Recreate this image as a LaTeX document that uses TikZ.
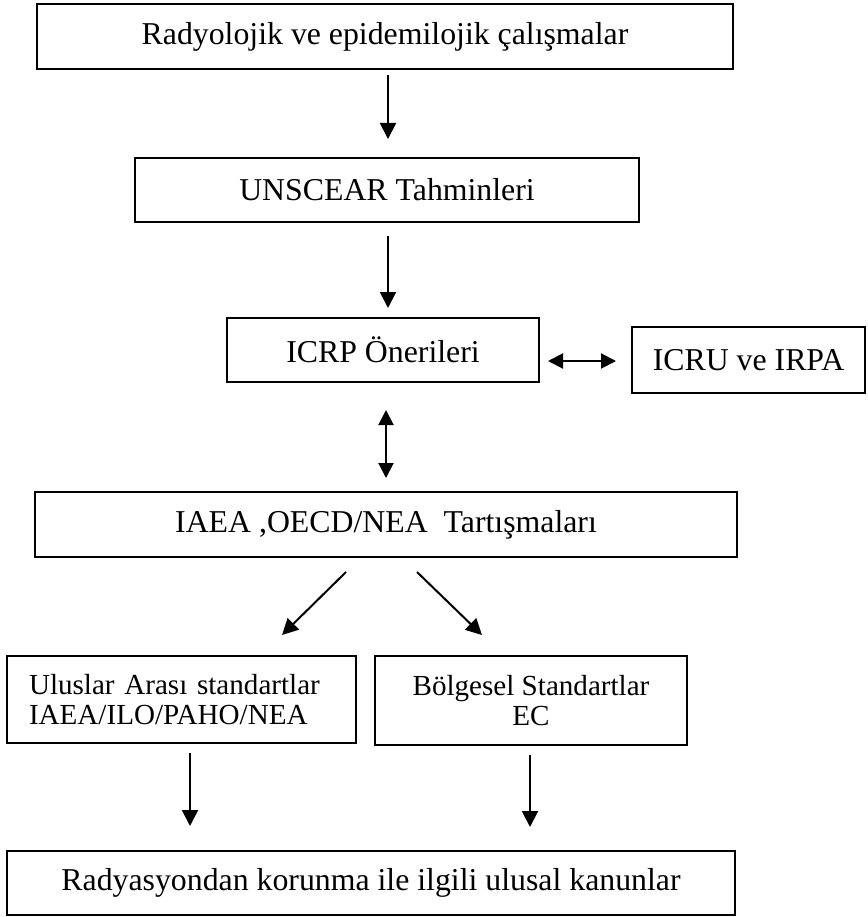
\documentclass[tikz,border=0pt]{standalone}
\usepackage{fontspec}
\setmainfont{Liberation Serif}
\usetikzlibrary{arrows.meta}
\begin{document}
\begin{tikzpicture}[x=1pt,y=-1pt,
  box/.style={draw, line width=2pt, inner sep=0pt, font=\fontsize{31.8}{36}\selectfont},
  smallbox/.style={draw, line width=2pt, inner sep=0pt, font=\fontsize{29.1}{30}\selectfont},
  arr/.style={line width=2pt, -{Triangle[length=16pt,width=16pt]}},
  darr/.style={line width=2pt, {Triangle[length=15pt,width=15pt]}-{Triangle[length=15pt,width=15pt]}}]
\useasboundingbox (0,0) rectangle (867,917);

\node[box, minimum width=696pt, minimum height=65pt] (b1) at (385,36.5) {Radyolojik ve epidemilojik çalışmalar};
\node[box, minimum width=504pt, minimum height=64pt] (b2) at (387,190) {UNSCEAR Tahminleri};
\node[box, minimum width=312pt, minimum height=64pt] (b3) at (383,350) {ICRP Önerileri};
\node[box, minimum width=233pt, minimum height=66pt] (b4) at (748.5,360) {ICRU ve IRPA};
\node[box, minimum width=702pt, minimum height=65pt] (b5) at (386,524.5) {IAEA ,OECD/NEA\ \ Tartışmaları};
\node[smallbox, minimum width=349pt, minimum height=87pt, text width=305pt, inner xsep=22pt, align=left] (b6) at (181.5,699.5) {Uluslar Arası standartlar\\IAEA/ILO/PAHO/NEA};
\node[smallbox, minimum width=312pt, minimum height=89pt, align=center] (b7) at (531,700.5) {Bölgesel Standartlar\\EC};
\node[box, minimum width=728pt, minimum height=64pt] (b8) at (371,883) {Radyasyondan korunma ile ilgili ulusal kanunlar};

\coordinate (a1s) at (388,75);   \coordinate (a1e) at (388,139);
\coordinate (a2s) at (388,236);  \coordinate (a2e) at (388,308);
\coordinate (hs) at (548,361);   \coordinate (he) at (616,361);
\coordinate (vs) at (386,410);   \coordinate (ve) at (386,478);
\coordinate (d1s) at (346,572);  \coordinate (d1e) at (282,635);
\coordinate (d2s) at (417,572);  \coordinate (d2e) at (482,635);
\coordinate (l1s) at (190,753);  \coordinate (l1e) at (190,826);
\coordinate (l2s) at (530,755);  \coordinate (l2e) at (530,827);

\draw[arr] (a1s) -- (a1e);
\draw[arr] (a2s) -- (a2e);
\draw[darr] (hs) -- (he);
\draw[darr] (vs) -- (ve);
\draw[arr] (d1s) -- (d1e);
\draw[arr] (d2s) -- (d2e);
\draw[arr] (l1s) -- (l1e);
\draw[arr] (l2s) -- (l2e);
\end{tikzpicture}
\end{document}
